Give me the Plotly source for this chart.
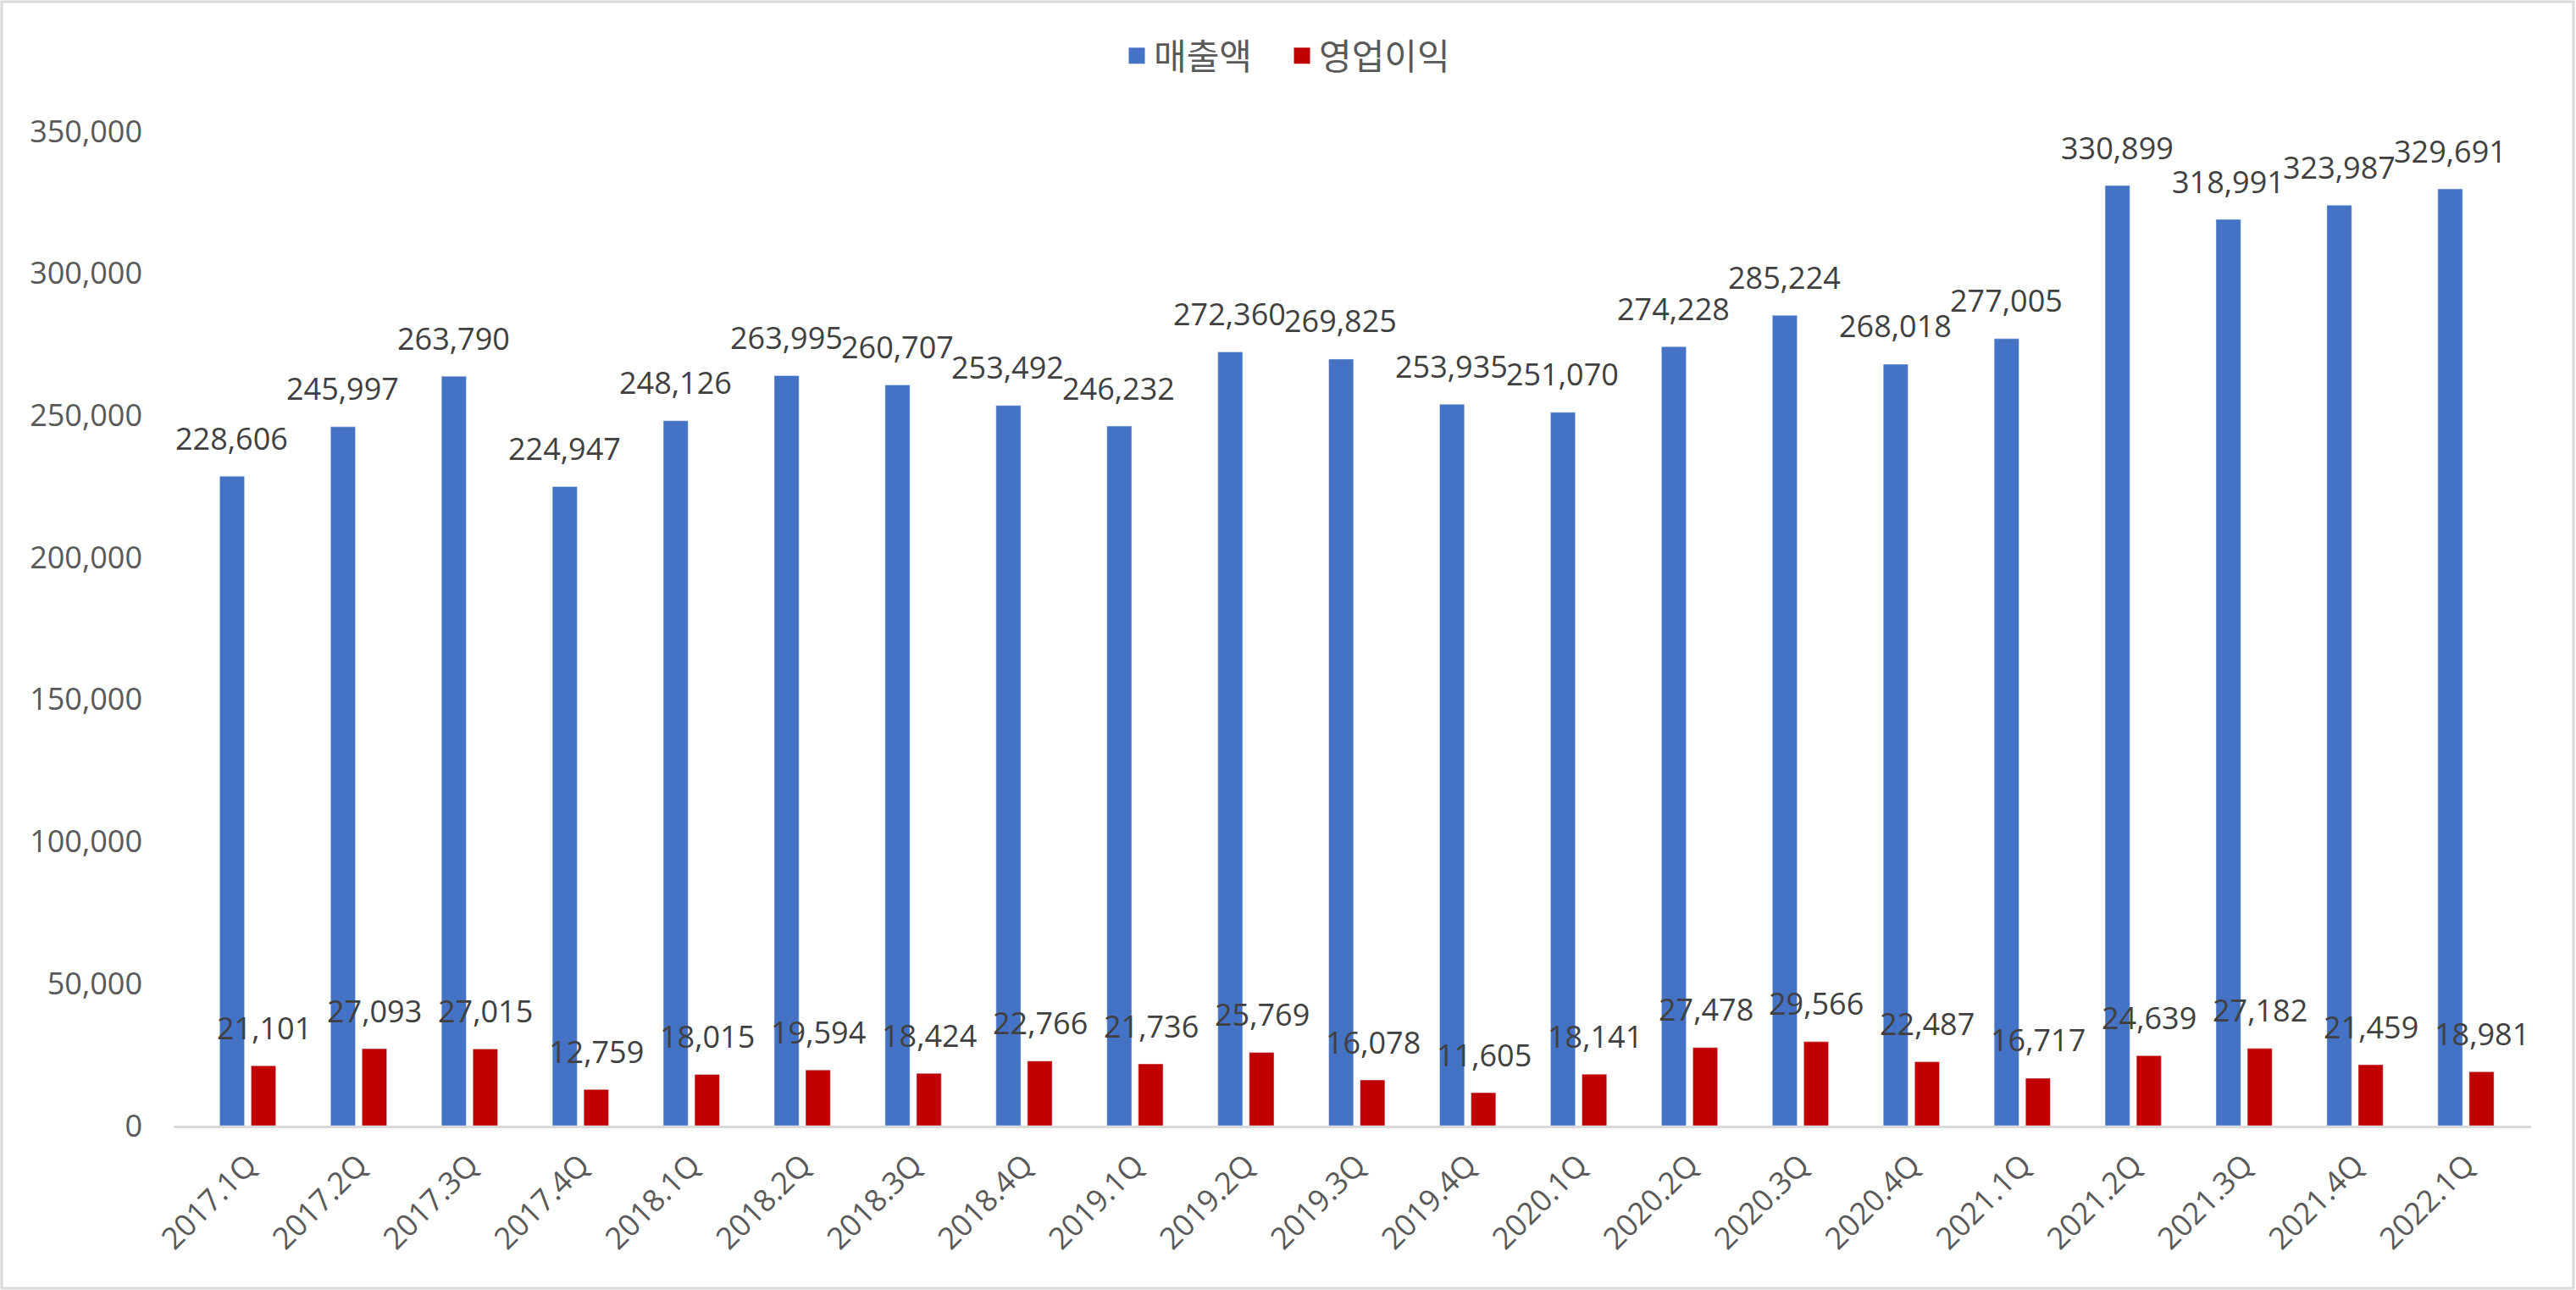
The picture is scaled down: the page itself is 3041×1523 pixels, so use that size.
import plotly.graph_objects as go

categories = ["2017.1Q", "2017.2Q", "2017.3Q", "2017.4Q", "2018.1Q", "2018.2Q", "2018.3Q",
              "2018.4Q", "2019.1Q", "2019.2Q", "2019.3Q", "2019.4Q", "2020.1Q", "2020.2Q",
              "2020.3Q", "2020.4Q", "2021.1Q", "2021.2Q", "2021.3Q", "2021.4Q", "2022.1Q"]
sales = [228606, 245997, 263790, 224947, 248126, 263995, 260707, 253492, 246232, 272360,
         269825, 253935, 251070, 274228, 285224, 268018, 277005, 330899, 318991, 323987, 329691]
op_profit = [21101, 27093, 27015, 12759, 18015, 19594, 18424, 22766, 21736, 25769,
             16078, 11605, 18141, 27478, 29566, 22487, 16717, 24639, 27182, 21459, 18981]
series_names = ["매출액", "영업이익"]
y_ticks = [0, 50000, 100000, 150000, 200000, 250000, 300000, 350000]

BLUE = "#4472C4"
RED = "#C00000"
FONT = "Open Sans, Noto Sans CJK KR, sans-serif"

W, H = 3041, 1523
ML, MR, MT, MB = 205, 53, 155, 194
PW, PH = W - ML - MR, H - MT - MB

fig = go.Figure()
fig.add_trace(go.Bar(x=categories, y=sales, name=series_names[0], marker_color=BLUE,
                     showlegend=False))
fig.add_trace(go.Bar(x=categories, y=op_profit, name=series_names[1], marker_color=RED,
                     showlegend=False))
# legend entries with larger square symbols
for nm, col in zip(series_names, [BLUE, RED]):
    fig.add_trace(go.Scatter(x=[None], y=[None], mode="markers", name=nm,
                             marker=dict(symbol="square", size=22, color=col,
                                         line=dict(color=col, width=3))))

annotations = []
for cat, s, p in zip(categories, sales, op_profit):
    for val, xs in ((s, -19), (p, 19)):
        annotations.append(dict(x=cat, y=val, xref="x", yref="y", text=f"{val:,}",
                                showarrow=False, xshift=xs, yshift=45, yanchor="middle",
                                font=dict(family=FONT, size=36, color="#404040")))

# chart-area border
bx0 = -(ML - 2) / PW
bx1 = 1 + (MR - 3) / PW
by0 = -(MB - 2) / PH
by1 = 1 + (MT - 2) / PH

fig.update_layout(
    width=W, height=H,
    margin=dict(l=ML, r=MR, t=MT, b=MB, pad=0, autoexpand=False),
    paper_bgcolor="white", plot_bgcolor="white",
    barmode="group", bargap=0.434, bargroupgap=0.21,
    font=dict(family=FONT, size=36, color="#595959"),
    annotations=annotations,
    legend=dict(orientation="h", x=(1322 - ML) / PW, xanchor="left",
                y=1 + (MT - 66) / PH, yanchor="middle",
                font=dict(family=FONT, size=42, color="#595959"),
                itemsizing="trace", traceorder="normal", itemwidth=30,
                entrywidth=150, entrywidthmode="pixels"),
    shapes=[dict(type="rect", xref="paper", yref="paper", x0=bx0, x1=bx1, y0=by0, y1=by1,
                 line=dict(color="#D9D9D9", width=3), fillcolor="rgba(0,0,0,0)",
                 layer="below")],
    xaxis=dict(showline=True, linecolor="#D9D9D9", linewidth=3, tickangle=-45,
               showgrid=False, ticks="", ticklabelstandoff=8, automargin=False,
               tickfont=dict(family=FONT, size=36, color="#595959")),
    yaxis=dict(range=[0, 350000], tickvals=y_ticks, tickformat=",", showgrid=False,
               zeroline=False, showline=False, ticks="", ticklabelstandoff=36,
               automargin=False,
               tickfont=dict(family=FONT, size=36, color="#595959")),
)

fig.write_html("out.html", config={"displayModeBar": False},
               post_script="document.body.style.margin='0';document.body.style.overflow='hidden';")
